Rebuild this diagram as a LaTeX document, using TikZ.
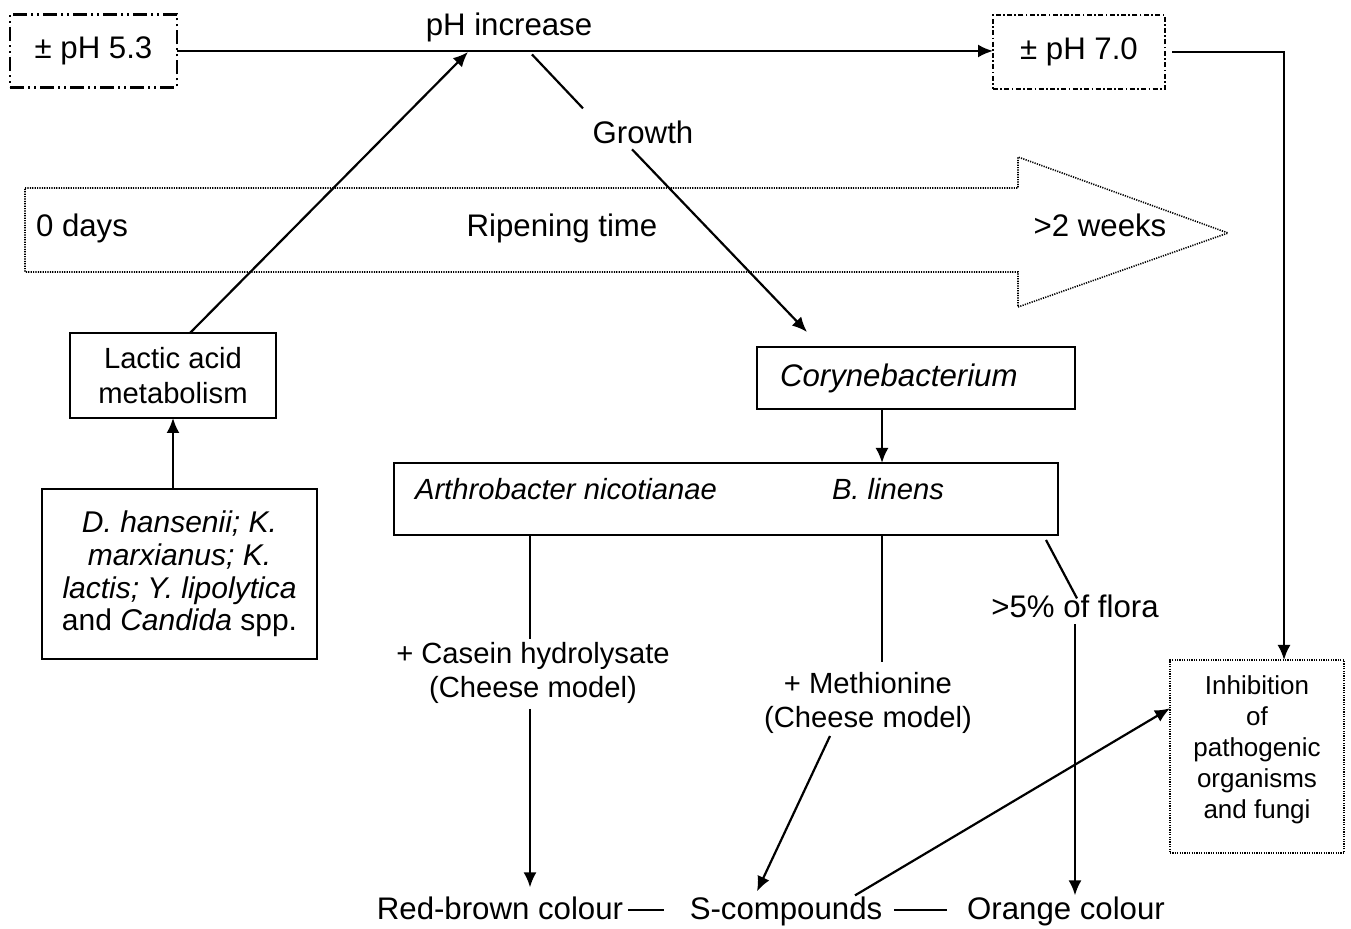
\documentclass[tikz,border=0pt]{standalone}
\usepackage{fontspec}
\setmainfont{Liberation Sans}
\usetikzlibrary{arrows.meta,calc}
\begin{document}
\begin{tikzpicture}[x=0.5pt,y=-0.5pt,
  every node/.style={inner sep=0pt, outer sep=0pt},
  lbl/.style={font=\fontsize{15.6}{18}\selectfont, anchor=base},
  mid/.style={font=\fontsize{14.6}{17.4}\selectfont, align=center},
  box/.style={draw, line width=1.1pt},
  plain/.style={line width=1.1pt},
  conn/.style={line width=1.1pt, -{Latex[length=7.5pt,width=6.5pt]}},
  dashdotdot/.style={line width=1.1pt, dash pattern=on 7pt off 2pt on 1pt off 2pt on 1pt off 2pt},
  dashdot/.style={line width=1.1pt, dash pattern=on 2.5pt off 1.2pt on 0.8pt off 1.2pt},
  finedot/.style={line width=0.8pt, dash pattern=on 0.6pt off 0.6pt},
]
\fill[white] (0,0) rectangle (1351,929);
\useasboundingbox (0,0) rectangle (1351,929);

% pH boxes and labels along the top
\node[draw, dashdotdot, font=\fontsize{15.6}{18}\selectfont,
      minimum width=83.5pt, minimum height=36.5pt] (ph53) at (93.5,51) {± pH 5.3};
\node[draw, dashdot, font=\fontsize{15.6}{18}\selectfont,
      minimum width=86pt, minimum height=37pt] (ph70) at (1079,52) {± pH 7.0};
\node[lbl] (phinc) at (509,36) {pH increase};
\node[lbl] (growth) at (643,144) {Growth};

% ripening time arrow
\draw[finedot] (25,188) -- (1018,188) -- (1018,157) -- (1228,233)
  -- (1018,307) -- (1018,272) -- (25,272) -- cycle;
\node[lbl] (days0) at (82,237) {0 days};
\node[lbl] (ripen) at (562,237) {Ripening time};
\node[lbl] (weeks) at (1100,237) {>2 weeks};

% yeasts
\node[box, mid, minimum width=103pt, minimum height=42.5pt] (lactic) at (173,375.5)
  {Lactic acid\\metabolism};
\node[box, font=\fontsize{15}{16.4}\selectfont, align=center,
      minimum width=137.5pt, minimum height=85pt] (yeast) at (179.5,574)
  {\textit{D. hansenii; K.}\\\textit{marxianus; K.}\\\textit{lactis; Y. lipolytica}\\and \textit{Candida} spp.};

% bacteria
\node[box, font=\fontsize{15.6}{18}\selectfont\itshape, align=left,
      text width=136pt, inner xsep=11.5pt, minimum height=31pt] (coryne) at (916,378)
  {Corynebacterium};
\node[box, minimum width=332pt, minimum height=36pt] (arthro) at (726,499) {};
\node[anchor=base, font=\fontsize{14.6}{17}\selectfont\itshape] (arthname) at (566,500)
  {Arthrobacter nicotianae};
\node[anchor=base, font=\fontsize{14.6}{17}\selectfont\itshape] (blinens) at (888,500)
  {B. linens};

% conditions
\node[mid] (casein) at (533,673) {+ Casein hydrolysate\\(Cheese model)};
\node[mid] (methio) at (868,703) {+ Methionine\\(Cheese model)};
\node[lbl] (flora) at (1075,618) {>5\% of flora};

% outcomes
\node[lbl] (redbrown) at (500,920) {Red-brown colour};
\node[lbl] (scomp) at (786,920) {S-compounds};
\node[lbl] (orange) at (1066,920) {Orange colour};
\node[draw, finedot, font=\fontsize{13}{15.5}\selectfont, align=center,
      minimum width=87pt, minimum height=96.5pt] (inhib) at (1257,756.5) {};
\node[font=\fontsize{13}{15.5}\selectfont, align=center] (inhibtext) at (1257,750)
  {Inhibition\\of\\pathogenic\\organisms\\and fungi};

% connectors
\coordinate (phjoin) at (468,52);
\draw[conn] (ph53.east) -- (ph53.east -| ph70.west);
\draw[conn] ($(ph70.east)+(7,0)$) -| ($(inhib.north)+(27,0)$);
\draw[conn] ($(lactic.north)+(17,0)$) -- (phjoin);
\draw[plain] ($(phinc.south)+(23,12)$) -- ($(growth.north)+(-60,-13)$);
\draw[conn] ($(growth.south)+(-11,5)$) -- ($(coryne.north)+(-109,-15)$);
\draw[conn] (lactic.south |- yeast.north) -- (lactic.south);
\coordinate (cdown) at ($(coryne.south)+(-34,0)$);
\draw[conn] (cdown) -- (cdown |- arthro.north);
\coordinate (cleft) at ($(casein.north)+(-3,0)$);
\draw[plain] (arthro.south -| cleft) -- ($(cleft)+(0,-3)$);
\draw[conn] ($(casein.south)+(-3,5)$) -- ($(casein.south |- redbrown.north)+(-3,-10)$);
\draw[plain] (arthro.south -| cdown) -- ($(cdown |- methio.north)+(0,-10)$);
\draw[conn] ($(methio.south)+(-38,2)$) -- ($(scomp.north)+(-29,-6)$);
\draw[plain] ($(arthro.south east)+(-12,5)$) -- ($(flora.north)+(2,3)$);
\draw[conn] ($(flora.south)+(0,6)$) -- ($(flora.south |- orange.north)+(0,-2)$);
\draw[conn] ($(scomp.north)+(69,-2)$) -- ($(inhib.north west)!0.25!(inhib.south west)$);
\draw[plain] ($(redbrown.base east)+(5,-10)$) -- ($(scomp.base west)+(-26,-10)$);
\draw[plain] ($(scomp.base east)+(12,-10)$) -- ($(orange.base west)+(-20,-10)$);
\end{tikzpicture}
\end{document}
